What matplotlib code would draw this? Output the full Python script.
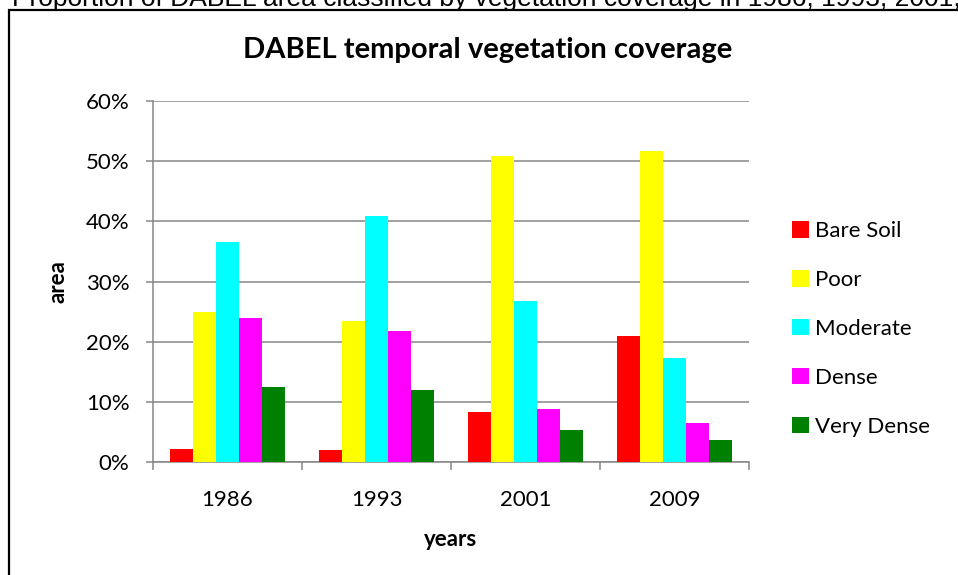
import matplotlib.pyplot as plt
from matplotlib.patches import Rectangle
from matplotlib.ticker import FixedLocator, PercentFormatter

years = ["1986", "1993", "2001", "2009"]
classes = ["Bare Soil", "Poor", "Moderate", "Dense", "Very Dense"]
bare_soil = [2.1, 2.0, 8.3, 20.9]
poor = [25.0, 23.5, 50.9, 51.7]
moderate = [36.5, 40.9, 26.7, 17.3]
dense = [23.9, 21.7, 8.8, 6.4]
very_dense = [12.4, 11.9, 5.4, 3.7]
colors = ["#FF0000", "#FFFF00", "#00FFFF", "#FF00FF", "#008000"]

FONT = "Lato"
GRID = "#868686"


def main():
    fig = plt.figure(figsize=(9.58, 5.75), dpi=100)
    fig.patch.set_facecolor("white")

    # caption of the page, cut by the top edge of the picture
    fig.text(12 / 958, 1 - 6 / 575, "Proportion of DABEL area classified by vegetation coverage in 1986, 1993, 2001, 2009",
             ha="left", va="baseline", fontsize=19, family="Liberation Sans", color="black")

    # chart frame running off the right and bottom edges
    fig.patches.append(Rectangle((9 / 958, -0.1), 1.2, 1 - 10 / 575 + 0.1, transform=fig.transFigure,
                                 fill=False, edgecolor="black", linewidth=1.6))

    ax = fig.add_axes([153 / 958, 1 - 462 / 575, (749 - 153) / 958, (462 - 101) / 575])
    ax.set_facecolor("white")

    series = [bare_soil, poor, moderate, dense, very_dense]
    w = 1 / 6.5
    for j, (name, vals, c) in enumerate(zip(classes, series, colors)):
        xs = [i + (j - 2) * w for i in range(len(years))]
        ax.bar(xs, vals, width=w, color=c, label=name, zorder=3)

    ax.set_xlim(-0.5, len(years) - 0.5)
    ax.set_ylim(0, 60)
    ax.set_yticks(range(0, 61, 10))
    ax.yaxis.set_major_formatter(PercentFormatter(decimals=0))
    ax.grid(axis="y", color=GRID, linewidth=1.1, zorder=0)

    ax.set_xticks(range(len(years)))
    ax.set_xticklabels(years)
    ax.xaxis.set_minor_locator(FixedLocator([i - 0.5 for i in range(len(years) + 1)]))
    ax.tick_params(axis="x", which="major", length=0, pad=20, labelsize=16)
    ax.tick_params(axis="x", which="minor", length=6, width=1.1, color=GRID)
    ax.tick_params(axis="y", length=5, width=1.1, color=GRID, pad=12, labelsize=16)
    for lab in ax.get_xticklabels() + ax.get_yticklabels():
        lab.set_family(FONT)

    for side in ["top", "right"]:
        ax.spines[side].set_visible(False)
    for side in ["left", "bottom"]:
        ax.spines[side].set_color(GRID)
        ax.spines[side].set_linewidth(1.1)

    ax.set_xlabel("years", fontsize=16, fontweight="bold", family=FONT, labelpad=14)
    ax.set_ylabel("area", fontsize=16, fontweight="bold", family=FONT, labelpad=12)

    fig.text(488 / 958, 1 - 50 / 575, "DABEL temporal vegetation coverage", ha="center", va="center",
             fontsize=21, fontweight="bold", family=FONT)

    ax.legend(loc="center left", bbox_to_anchor=(783 / 958, 1 - 329 / 575), bbox_transform=fig.transFigure,
              frameon=False, prop={"family": FONT, "size": 16}, handlelength=0.75, handleheight=0.75,
              handletextpad=0.3, labelspacing=1.3, borderaxespad=0)

    plt.savefig("out.png", dpi=100, facecolor="white")
    plt.close(fig)


if __name__ == "__main__":
    main()
